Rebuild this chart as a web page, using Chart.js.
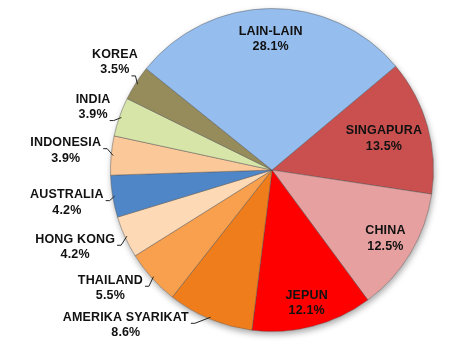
<!DOCTYPE html>
<html>
<head>
<meta charset="utf-8">
<script src="https://cdn.jsdelivr.net/npm/chart.js@4/dist/chart.umd.min.js"></script>
<style>
  html, body { margin: 0; background: #fff; }
  #wrap { width: 471px; height: 350px; }
</style>
</head>
<body>
<div id="wrap"><canvas id="chart-pie" width="471" height="350"></canvas></div>
<script>
// data, clockwise from SINGAPURA
const negara = ['SINGAPURA', 'CHINA', 'JEPUN', 'AMERIKA SYARIKAT', 'THAILAND', 'HONG KONG', 'AUSTRALIA', 'INDONESIA', 'INDIA', 'KOREA', 'LAIN-LAIN'];
const peratus = [13.5, 12.5, 12.1, 8.6, 5.5, 4.2, 4.2, 3.9, 3.9, 3.5, 28.1];
const warna = ['#c9504f', '#e5a09f', '#ff0000', '#f07d1b', '#f9a04f', '#fdd9b5', '#4f86c8', '#fbc899', '#d7e5a8', '#968b5a', '#95bded'];

// label placement: inside (radius factor) or outside (offset from slice edge)
const labelIn = [0.72, 0.82, 0.85, null, null, null, null, null, null, null, 0.81];
const labelOut = [null, null, null, [-21, 6], [-9, 10], [-10, 10], [-9, 6], [-10, -5], [-9, -10], [2, -21], null];

const FONT = 'bold 12.5px "Liberation Sans", Arial, sans-serif';
const LINE_H = 15.5;

/**
 * Soft shadow under the pie.
 */
const pieShadow = {
  id: 'pieShadow',
  beforeDatasetsDraw(chart) {
    const arc = chart.getDatasetMeta(0).data[0];
    if (!arc) return;
    const ctx = chart.ctx;
    ctx.save();
    ctx.shadowColor = 'rgba(0,0,0,0.35)';
    ctx.shadowBlur = 6;
    ctx.shadowOffsetX = 1;
    ctx.shadowOffsetY = 3;
    ctx.fillStyle = '#fff';
    ctx.beginPath();
    ctx.arc(arc.x, arc.y, arc.outerRadius, 0, Math.PI * 2);
    ctx.fill();
    ctx.restore();
  }
};

/**
 * Category name + percent labels, with leader lines for the small slices.
 */
const pieLabels = {
  id: 'pieLabels',
  afterDatasetsDraw(chart) {
    const ctx = chart.ctx;
    ctx.save();
    ctx.font = FONT;
    ctx.letterSpacing = '0.15px';
    ctx.fillStyle = '#111';
    ctx.textBaseline = 'middle';
    ctx.textAlign = 'center';
    chart.getDatasetMeta(0).data.forEach((arc, i) => {
      const mid = (arc.startAngle + arc.endAngle) / 2;
      const r = arc.outerRadius;
      const lines = [negara[i], peratus[i].toFixed(1) + '%'];
      if (labelIn[i]) {
        const x = arc.x + Math.cos(mid) * r * labelIn[i];
        const y = arc.y + Math.sin(mid) * r * labelIn[i];
        ctx.fillText(lines[0], x, y - LINE_H / 2);
        ctx.fillText(lines[1], x, y + LINE_H / 2);
        return;
      }
      const px = arc.x + Math.cos(mid) * r;
      const py = arc.y + Math.sin(mid) * r;
      const [ox, oy] = labelOut[i];
      const w = Math.max(...lines.map(t => ctx.measureText(t).width));
      const right = px + ox;
      const cx = right - w / 2;
      const cy = py + oy;
      ctx.fillText(lines[0], cx, cy - LINE_H / 2);
      ctx.fillText(lines[1], cx, cy + LINE_H / 2);

      // leader line
      const k = oy <= -10 ? 1 : 0;
      const lw = ctx.measureText(lines[k]).width;
      const sx = cx + lw / 2 + 2;
      const sy = cy + (k ? LINE_H / 2 : -LINE_H / 2) + 6;
      ctx.strokeStyle = '#222';
      ctx.lineWidth = 1;
      ctx.beginPath();
      ctx.moveTo(sx, sy);
      ctx.lineTo(sx + 4, sy);
      ctx.lineTo(px - Math.cos(mid) * 2, py - Math.sin(mid) * 2);
      ctx.stroke();
    });
    ctx.restore();
  }
};

new Chart(document.getElementById('chart-pie'), {
  type: 'pie',
  data: {
    labels: negara,
    datasets: [{
      data: peratus,
      backgroundColor: warna,
      borderColor: 'rgba(80,80,80,0.45)',
      borderWidth: 1
    }]
  },
  options: {
    responsive: false,
    animation: false,
    rotation: 50,
    layout: { padding: { top: 8, bottom: 18, left: 110, right: 37 } },
    plugins: {
      legend: { display: false },
      tooltip: { enabled: false }
    }
  },
  plugins: [pieShadow, pieLabels]
});
</script>
</body>
</html>
